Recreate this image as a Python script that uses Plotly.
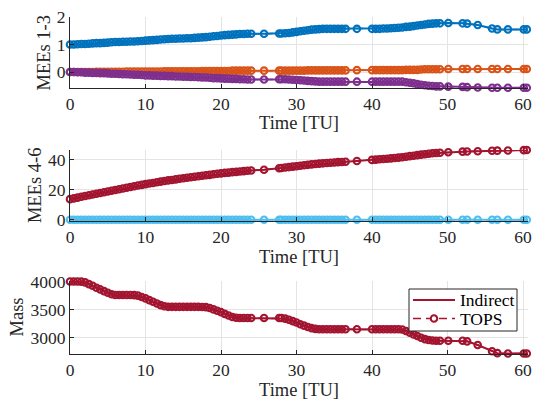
import plotly.graph_objects as go

# Sample times [TU] of the TOPS solution (dense arcs, then sparse nodes)
t = [
    0.0, 0.5, 1.0, 1.5, 2.0, 2.5, 3.0, 3.5, 4.0, 4.5, 5.0, 5.5, 6.0, 6.5, 7.0, 7.5,
    8.0, 8.5, 9.0, 9.5, 10.0, 10.5, 11.0, 11.5, 12.0, 12.5, 13.0, 13.5, 14.0, 14.5,
    15.0, 15.5, 16.0, 16.5, 17.0, 17.5, 18.0, 18.5, 19.0, 19.5, 20.0, 20.5, 21.0,
    21.5, 22.0, 22.5, 23.0, 23.5, 24.0,
    25.7, 27.7,
    28.0, 28.5, 29.0, 29.5, 30.0, 30.5, 31.0, 31.5, 32.0, 32.5, 33.0, 33.5, 34.0,
    34.5, 35.0, 35.5, 36.0, 36.5,
    38.0,
    40.0, 40.5, 41.0, 41.5, 42.0, 42.5, 43.0, 43.5, 44.0, 44.5, 45.0, 45.5, 46.0,
    46.5, 47.0, 47.5, 48.0, 48.5, 49.0,
    50.1, 52.0, 52.6, 54.0, 55.9, 56.6, 58.0, 60.1, 60.5,
]

# Modified equinoctial elements 1-3 (p, f, g)
mee_p = [
    1.00, 1.00, 1.01, 1.02, 1.02, 1.03, 1.04, 1.05, 1.05, 1.06, 1.07, 1.08, 1.09, 1.09,
    1.10, 1.10, 1.11, 1.11, 1.12, 1.13, 1.14, 1.15, 1.16, 1.17, 1.18, 1.19, 1.20, 1.21,
    1.21, 1.22, 1.22, 1.23, 1.23, 1.24, 1.25, 1.26, 1.27, 1.28, 1.30, 1.31, 1.33, 1.34,
    1.35, 1.36, 1.37, 1.38, 1.38, 1.39, 1.39,
    1.39, 1.40,
    1.40, 1.41, 1.42, 1.44, 1.46, 1.48, 1.50, 1.52, 1.54, 1.55, 1.56, 1.57, 1.57,
    1.57, 1.57, 1.57, 1.57, 1.57,
    1.57,
    1.57, 1.57, 1.57, 1.58, 1.58, 1.59, 1.60, 1.61, 1.62, 1.64, 1.65, 1.67, 1.69,
    1.71, 1.73, 1.75, 1.76, 1.77, 1.77,
    1.78, 1.77, 1.76, 1.71, 1.58, 1.55, 1.55, 1.55, 1.55,
]
mee_f = [
    0.00, 0.00, 0.00, 0.00, 0.00, 0.00, 0.00, 0.01, 0.01, 0.01, 0.01, 0.01, 0.01, 0.01,
    0.01, 0.02, 0.02, 0.02, 0.02, 0.02, 0.02, 0.02, 0.02, 0.02, 0.02, 0.03, 0.03, 0.03,
    0.03, 0.03, 0.03, 0.03, 0.03, 0.03, 0.03, 0.04, 0.04, 0.04, 0.04, 0.04, 0.04, 0.04,
    0.04, 0.05, 0.05, 0.05, 0.05, 0.05, 0.05,
    0.05, 0.05,
    0.05, 0.05, 0.05, 0.05, 0.05, 0.05, 0.05, 0.06, 0.06, 0.06, 0.06, 0.06, 0.06,
    0.06, 0.06, 0.06, 0.06, 0.06,
    0.07,
    0.07, 0.07, 0.07, 0.07, 0.07, 0.07, 0.07, 0.07, 0.07, 0.08, 0.08, 0.08, 0.08,
    0.09, 0.10, 0.10, 0.10, 0.10, 0.10,
    0.11, 0.11, 0.11, 0.11, 0.11, 0.11, 0.11, 0.11, 0.11,
]
mee_g = [
    0.00, 0.00, -0.01, -0.01, -0.02, -0.02, -0.03, -0.03, -0.04, -0.04, -0.05, -0.06,
    -0.06, -0.07, -0.08, -0.08, -0.09, -0.10, -0.10, -0.11, -0.12, -0.12, -0.13, -0.13,
    -0.14, -0.14, -0.15, -0.15, -0.16, -0.16, -0.17, -0.17, -0.18, -0.18, -0.19, -0.20,
    -0.20, -0.21, -0.22, -0.22, -0.23, -0.24, -0.24, -0.25, -0.25, -0.26, -0.26, -0.27,
    -0.27,
    -0.27, -0.26,
    -0.26, -0.26, -0.27, -0.28, -0.29, -0.30, -0.31, -0.32, -0.33, -0.34, -0.35, -0.35,
    -0.35, -0.35, -0.35, -0.35, -0.35, -0.35,
    -0.35,
    -0.35, -0.35, -0.35, -0.35, -0.35, -0.35, -0.35, -0.35, -0.35, -0.37, -0.39, -0.41,
    -0.44, -0.46, -0.48, -0.50, -0.51, -0.52, -0.52,
    -0.53, -0.54, -0.55, -0.56, -0.57, -0.57, -0.57, -0.57, -0.57,
]

# Modified equinoctial elements 4-6 (h/k near zero, true longitude L)
mee_hk = [
    0.0, 0.0, 0.0, 0.0, 0.0, 0.0, 0.0, 0.0, 0.0, 0.0, 0.0, 0.0, 0.0, 0.0, 0.0, 0.0,
    0.0, 0.0, 0.0, 0.0, 0.0, 0.0, 0.0, 0.0, 0.0, 0.0, 0.0, 0.0, 0.0, 0.0, 0.0, 0.0,
    0.0, 0.0, 0.0, 0.0, 0.0, 0.0, 0.0, 0.0, 0.0, 0.0, 0.0, 0.0, 0.0, 0.0, 0.0, 0.0,
    0.0,
    0.0, 0.0,
    0.0, 0.0, 0.0, 0.0, 0.0, 0.0, 0.0, 0.0, 0.0, 0.0, 0.0, 0.0, 0.0, 0.0, 0.0, 0.0,
    0.0, 0.0,
    0.0,
    0.0, 0.0, 0.0, 0.0, 0.0, 0.0, 0.0, 0.0, 0.0, 0.0, 0.0, 0.0, 0.0, 0.0, 0.0, 0.0,
    0.0, 0.0, 0.0,
    0.0, 0.0, 0.0, 0.0, 0.0, 0.0, 0.0, 0.0, 0.0,
]
mee_L = [
    13.8, 14.3, 14.8, 15.4, 15.9, 16.4, 16.9, 17.4, 17.9, 18.4, 18.9, 19.4, 19.9, 20.4,
    20.9, 21.4, 21.9, 22.4, 22.9, 23.3, 23.8, 24.2, 24.6, 25.1, 25.5, 25.9, 26.3, 26.6,
    27.0, 27.4, 27.7, 28.1, 28.4, 28.7, 29.1, 29.4, 29.7, 30.0, 30.4, 30.7, 31.0, 31.3,
    31.5, 31.8, 32.0, 32.2, 32.5, 32.7, 32.9,
    33.4, 34.4,
    34.6, 34.9, 35.2, 35.5, 35.8, 36.1, 36.4, 36.7, 37.0, 37.3, 37.5, 37.7, 37.9,
    38.1, 38.3, 38.5, 38.6, 38.8,
    39.3,
    40.0, 40.2, 40.4, 40.6, 40.8, 41.0, 41.3, 41.5, 41.8, 42.1, 42.5, 42.8, 43.2,
    43.5, 43.8, 44.1, 44.4, 44.6, 44.8,
    45.1, 45.5, 45.6, 45.8, 46.1, 46.2, 46.3, 46.5, 46.6,
]

# Spacecraft mass
mass = [
    4000, 4000, 4000, 3998, 3985, 3955, 3925, 3890, 3860, 3830, 3800, 3775, 3762, 3760,
    3760, 3760, 3760, 3758, 3750, 3725, 3700, 3670, 3640, 3610, 3580, 3560, 3550, 3550,
    3550, 3550, 3550, 3550, 3550, 3550, 3550, 3548, 3545, 3530, 3505, 3480, 3455, 3425,
    3395, 3370, 3355, 3350, 3350, 3350, 3350,
    3350, 3350,
    3350, 3340, 3320, 3295, 3270, 3240, 3215, 3190, 3170, 3158, 3150, 3150, 3150,
    3150, 3150, 3150, 3150, 3150,
    3150,
    3150, 3150, 3150, 3150, 3150, 3150, 3150, 3150, 3145, 3120, 3090, 3060, 3030,
    3000, 2975, 2960, 2950, 2945, 2945,
    2945, 2945, 2935, 2870, 2760, 2725, 2720, 2720, 2720,
]

x_ticks = [0, 10, 20, 30, 40, 50, 60]
y1_ticks = [0, 1, 2]
y2_ticks = [0, 20, 40]
y3_ticks = [3000, 3500, 4000]
x_label = "Time [TU]"
y_labels = ["MEEs 1-3", "MEEs 4-6", "Mass"]
legend_names = ["Indirect", "TOPS"]

BLUE = "#0072BD"
ORANGE = "#D95319"
PURPLE = "#7E2F8E"
LIGHTBLUE = "#4DBEEE"
DARKRED = "#A2142F"

FONT = "Liberation Serif"
AXC = "#262626"
GRID = "#e4e4e4"
DASH = "8px,5px"
MK_SIZE = 6.5
MK_LW = 2.1

fig = go.Figure()

panels = [
    (1, [(mee_p, BLUE), (mee_f, ORANGE), (mee_g, PURPLE)]),
    (2, [(mee_hk, LIGHTBLUE), (mee_L, DARKRED)]),
    (3, [(mass, DARKRED)]),
]

for row, series in panels:
    xa = "x" if row == 1 else f"x{row}"
    ya = "y" if row == 1 else f"y{row}"
    for vals, col in series:
        fig.add_trace(go.Scatter(
            x=t, y=vals, mode="lines", xaxis=xa, yaxis=ya,
            line=dict(color=col, width=2),
            name=legend_names[0], showlegend=False,
        ))
        fig.add_trace(go.Scatter(
            x=t, y=vals, mode="lines+markers", xaxis=xa, yaxis=ya,
            line=dict(color=col, width=1.5, dash=DASH),
            marker=dict(symbol="circle-open", size=MK_SIZE, color=col,
                        line=dict(width=MK_LW, color=col)),
            name=legend_names[1], showlegend=False, cliponaxis=False,
        ))

# pixel layout of the three panels (top, bottom) inside a 533x403 canvas
W, H = 533, 403
L_M, R_M, T_M, B_M = 70, 5, 17, 49
plot_h = H - T_M - B_M
plot_w = W - L_M - R_M
panel_px = [(17, 88), (150, 221), (281, 354)]


def ydom(top, bot):
    return [(H - B_M - bot) / plot_h, (H - B_M - top) / plot_h]


def py(p):
    return (H - B_M - p) / plot_h


def px(p):
    return (p - L_M) / plot_w


axis_common = dict(
    showline=True, linecolor=AXC, linewidth=1, mirror=False,
    showgrid=True, gridcolor=GRID, gridwidth=1, zeroline=False,
    ticks="inside", ticklen=4, tickcolor=AXC, tickwidth=1,
    tickfont=dict(family=FONT, size=17.5, color=AXC),
)

y_ranges = [[-0.58, 2.0], [-0.8, 46.6], [2710, 4010]]
y_tick_sets = [y1_ticks, y2_ticks, y3_ticks]

for i in range(3):
    sfx = "" if i == 0 else str(i + 1)
    fig.update_layout(**{
        f"xaxis{sfx}": dict(
            axis_common, domain=[0, 1], range=[0, 60.66],
            tickvals=x_ticks, ticktext=[str(v) for v in x_ticks],
            anchor=f"y{sfx}",
        ),
        f"yaxis{sfx}": dict(
            axis_common, domain=ydom(*panel_px[i]), range=y_ranges[i],
            tickvals=y_tick_sets[i], ticktext=[str(v) for v in y_tick_sets[i]],
            anchor=f"x{sfx}",
        ),
    })

annotations = []
title_font = dict(family=FONT, size=18.5, color=AXC)
for i, (top, bot) in enumerate(panel_px):
    annotations.append(dict(
        text=x_label, xref="paper", yref="paper",
        x=px((L_M + W - R_M) / 2), y=py(bot + 35.5),
        xanchor="center", yanchor="middle", showarrow=False, font=title_font,
    ))
y_title_x = [43, 34.5, 16]
for i, (top, bot) in enumerate(panel_px):
    annotations.append(dict(
        text=y_labels[i], xref="paper", yref="paper", textangle=-90,
        x=px(y_title_x[i]), y=py((top + bot) / 2),
        xanchor="center", yanchor="middle", showarrow=False, font=title_font,
    ))

# Legend box in the mass panel (MATLAB-style, compact rows)
box = (409, 289, 517, 331)
rows_y = [300, 318.5]
sample_x = (413, 455)
shapes = [dict(
    type="rect", xref="paper", yref="paper", layer="above",
    x0=px(box[0]), x1=px(box[2]), y0=py(box[3]), y1=py(box[1]),
    line=dict(color=AXC, width=1), fillcolor="white",
)]
shapes.append(dict(
    type="line", xref="paper", yref="paper", layer="above",
    x0=px(sample_x[0]), x1=px(sample_x[1]), y0=py(rows_y[0]), y1=py(rows_y[0]),
    line=dict(color=DARKRED, width=2),
))
shapes.append(dict(
    type="line", xref="paper", yref="paper", layer="above",
    x0=px(sample_x[0]), x1=px(sample_x[1]), y0=py(rows_y[1]), y1=py(rows_y[1]),
    line=dict(color=DARKRED, width=1.5, dash=DASH),
))
mx = (sample_x[0] + sample_x[1]) / 2
r = MK_SIZE / 2
shapes.append(dict(
    type="circle", xref="paper", yref="paper", layer="above",
    x0=px(mx - r), x1=px(mx + r), y0=py(rows_y[1] + r), y1=py(rows_y[1] - r),
    line=dict(color=DARKRED, width=MK_LW), fillcolor="white",
))
for name, yy in zip(legend_names, rows_y):
    annotations.append(dict(
        text=name, xref="paper", yref="paper", x=px(458), y=py(yy),
        xanchor="left", yanchor="middle", showarrow=False,
        font=dict(family=FONT, size=17.5, color="#000000"),
    ))

fig.update_layout(
    width=W, height=H,
    margin=dict(l=L_M, r=R_M, t=T_M, b=B_M, autoexpand=False),
    paper_bgcolor="white", plot_bgcolor="white",
    annotations=annotations, shapes=shapes,
    showlegend=False,
)

fig.write_html("out.html")
